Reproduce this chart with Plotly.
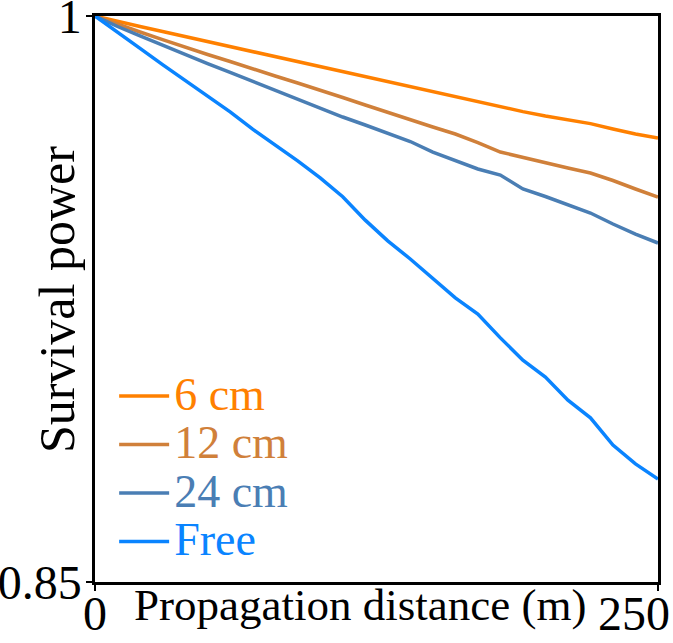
import plotly.graph_objects as go

distance = [0, 10, 20, 30, 40, 50, 60, 70, 80, 90, 100, 110, 120, 130, 140, 150,
            160, 170, 180, 190, 200, 210, 220, 230, 240, 250]

p_6cm = [1.0, 0.99854, 0.99722, 0.99587, 0.99454, 0.99319, 0.99189, 0.99056, 0.98927,
         0.98794, 0.98664, 0.98532, 0.98402, 0.98269, 0.98134, 0.97994, 0.97853, 0.97721,
         0.97588, 0.97466, 0.9735, 0.97244, 0.97148, 0.97005, 0.96873, 0.96767]

p_12cm = [1.0, 0.9978, 0.99576, 0.99374, 0.9917, 0.9898, 0.98794, 0.98595, 0.9841,
          0.98224, 0.98039, 0.9784, 0.97641, 0.97442, 0.97244, 0.97058, 0.96873, 0.96647,
          0.96395, 0.9625, 0.96104, 0.95971, 0.95839, 0.9564, 0.95415, 0.95203]

p_24cm = [1.0, 0.99722, 0.99473, 0.99221, 0.98972, 0.98741, 0.98503, 0.98264, 0.98025,
          0.97787, 0.97562, 0.97323, 0.97111, 0.96887, 0.96674, 0.96395, 0.9617, 0.95945,
          0.95786, 0.95415, 0.95216, 0.94991, 0.94779, 0.94487, 0.94222, 0.93984]

p_free = [1.0, 0.9956, 0.9914, 0.9871, 0.9829, 0.9787, 0.9746, 0.97, 0.9658, 0.9616,
          0.9571, 0.9521, 0.9459, 0.9404, 0.9356, 0.9303, 0.9253, 0.921, 0.9147, 0.9088,
          0.9043, 0.8982, 0.8935, 0.8863, 0.8813, 0.8773]

series_names = ["6 cm", "12 cm", "24 cm", "Free"]
series_values = [p_6cm, p_12cm, p_24cm, p_free]
series_colors = ["#FF8000", "#D0803A", "#4A7EB4", "#0A84FF"]

x_ticks = [0, 250]
x_ticktext = ["0", "250\u00a0\u00a0\u00a0\u00a0"]
y_ticks = [0.85, 1.0]
y_ticktext = ["0.85", "1"]

FONT = "Liberation Serif, Times New Roman, serif"

fig = go.Figure()
for name, vals, col in zip(series_names, series_values, series_colors):
    fig.add_trace(go.Scatter(
        x=distance, y=vals, mode="lines", line=dict(color=col, width=3.5),
        name=f'<span style="color:{col};font-size:46px">{name}</span>'))

axis_common = dict(showgrid=False, zeroline=False, showline=True, mirror=True,
                   linecolor="black", linewidth=2.5, ticks="outside", ticklen=6,
                   tickwidth=2, tickcolor="black", automargin=False,
                   ticklabeloverflow="allow", tickfont=dict(size=48, family=FONT))

fig.update_layout(
    width=673, height=643,
    margin=dict(l=95, r=15, t=16, b=61),
    paper_bgcolor="white", plot_bgcolor="white",
    font=dict(family=FONT, color="black", size=48),
    showlegend=True,
    legend=dict(x=0.034, y=0.02, xanchor="left", yanchor="bottom",
                bgcolor="rgba(0,0,0,0)", font=dict(size=35, family=FONT),
                tracegroupgap=0, itemwidth=50),
    xaxis=dict(range=[0, 250], tickvals=x_ticks, ticktext=x_ticktext,
               ticklabelstandoff=-18, **axis_common),
    yaxis=dict(range=[0.85, 1.0], tickvals=y_ticks, ticktext=y_ticktext,
               ticklabelstandoff=-5, **axis_common),
    annotations=[
        dict(text="Propagation distance (m)", xref="paper", yref="paper",
             x=0.47, y=0, yanchor="top", yshift=4, showarrow=False,
             font=dict(size=45, family=FONT)),
        dict(text="Survival power", xref="paper", yref="paper", textangle=-90,
             x=-0.0675, y=0.5, xanchor="center", yanchor="middle", showarrow=False,
             font=dict(size=50, family=FONT)),
    ],
)

fig.write_html("out.html", config={"displayModeBar": False},
               post_script="document.body.style.margin='0';")
